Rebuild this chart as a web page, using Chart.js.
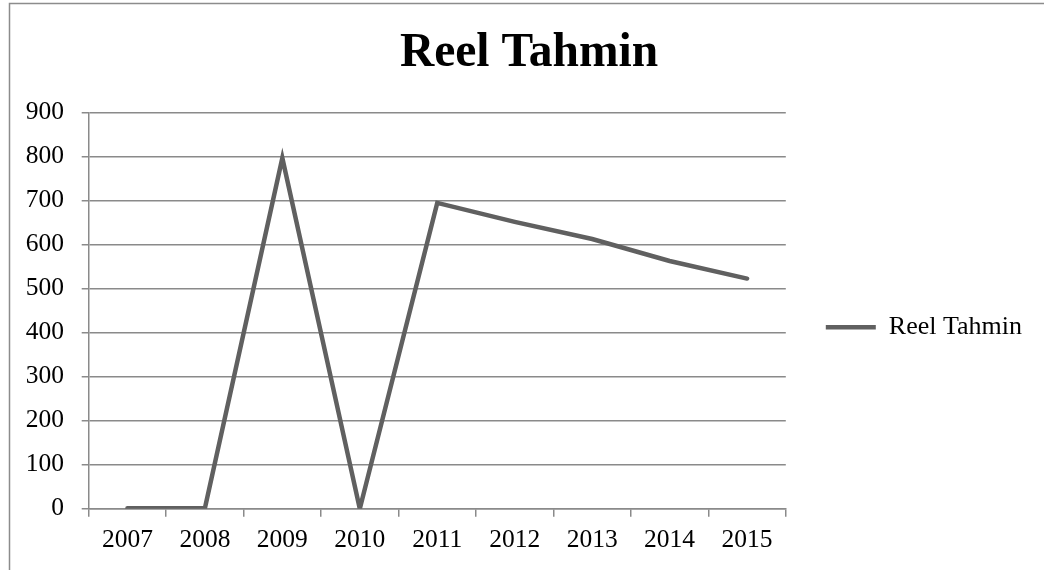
<!DOCTYPE html>
<html>
<head>
<meta charset="utf-8">
<script src="https://cdn.jsdelivr.net/npm/chart.js@4.4.1/dist/chart.umd.min.js"></script>
<style>
  html, body { margin: 0; padding: 0; background: #fff; }
  #wrap { width: 1044px; height: 570px; position: relative; }
</style>
</head>
<body>
<div id="wrap"><canvas id="reelChart"></canvas></div>
<script>
const years = ['2007', '2008', '2009', '2010', '2011', '2012', '2013', '2014', '2015'];
const reelTahmin = [1, 1, 797, 0, 695, 652, 613, 563, 523];
const yTicks = [0, 100, 200, 300, 400, 500, 600, 700, 800, 900];

const serif = "'Liberation Serif', 'Times New Roman', serif";
const gridGray = '#8a8a8a';
const lineGray = '#606060';

// outer frame of the chart object (only top and left edges fall inside the canvas)
const frame = {
  id: 'frame',
  beforeDraw(chart) {
    const ctx = chart.ctx;
    ctx.save();
    ctx.strokeStyle = '#8c8c8c';
    ctx.lineWidth = 1.5;
    ctx.beginPath();
    ctx.moveTo(9.5, chart.height + 5);
    ctx.lineTo(9.5, 3.5);
    ctx.lineTo(chart.width + 5, 3.5);
    ctx.stroke();
    ctx.restore();
  }
};

const ctx = document.getElementById('reelChart');
new Chart(ctx, {
  type: 'line',
  data: {
    labels: years,
    datasets: [{
      label: 'Reel Tahmin',
      data: reelTahmin,
      borderColor: lineGray,
      backgroundColor: lineGray,
      borderWidth: 4.5,
      borderCapStyle: 'round',
      borderJoinStyle: 'miter',
      pointRadius: 0,
      pointHoverRadius: 0,
      tension: 0
    }]
  },
  options: {
    responsive: true,
    maintainAspectRatio: false,
    animation: false,
    layout: {
      padding: { left: 26, right: 12, top: 3, bottom: 0 }
    },
    plugins: {
      title: {
        display: true,
        text: 'Reel Tahmin',
        color: '#000',
        font: { family: serif, size: 47.5, weight: 'bold' },
        padding: { top: 22, bottom: 30.7 }
      },
      legend: {
        position: 'right',
        // empty title only pushes the single entry down
        title: {
          display: true,
          text: ' ',
          font: { size: 10 },
          padding: { top: 69.6, bottom: 0 }
        },
        labels: {
          color: '#000',
          font: { family: serif, size: 26 },
          usePointStyle: true,
          pointStyle: 'line',
          pointStyleWidth: 50,
          padding: 40
        }
      },
      tooltip: { enabled: false }
    },
    scales: {
      x: {
        offset: true,
        afterFit(scale) { scale.height = 61.3; },
        grid: {
          offset: true,
          drawOnChartArea: false,
          color: gridGray,
          lineWidth: 1.5,
          tickLength: 8
        },
        border: { color: gridGray, width: 1.5 },
        ticks: {
          color: '#000',
          font: { family: serif, size: 25.5 },
          padding: 8.3,
          maxRotation: 0
        }
      },
      y: {
        min: 0,
        max: 900,
        afterFit(scale) { scale.width = 62.7; },
        afterBuildTicks(scale) {
          scale.ticks = yTicks.map(v => ({ value: v }));
        },
        grid: {
          color: gridGray,
          lineWidth: 1.5,
          tickLength: 7
        },
        border: { color: gridGray, width: 1.5 },
        ticks: {
          color: '#000',
          font: { family: serif, size: 25.5 },
          padding: 17.7
        }
      }
    }
  },
  plugins: [frame]
});
</script>
</body>
</html>
